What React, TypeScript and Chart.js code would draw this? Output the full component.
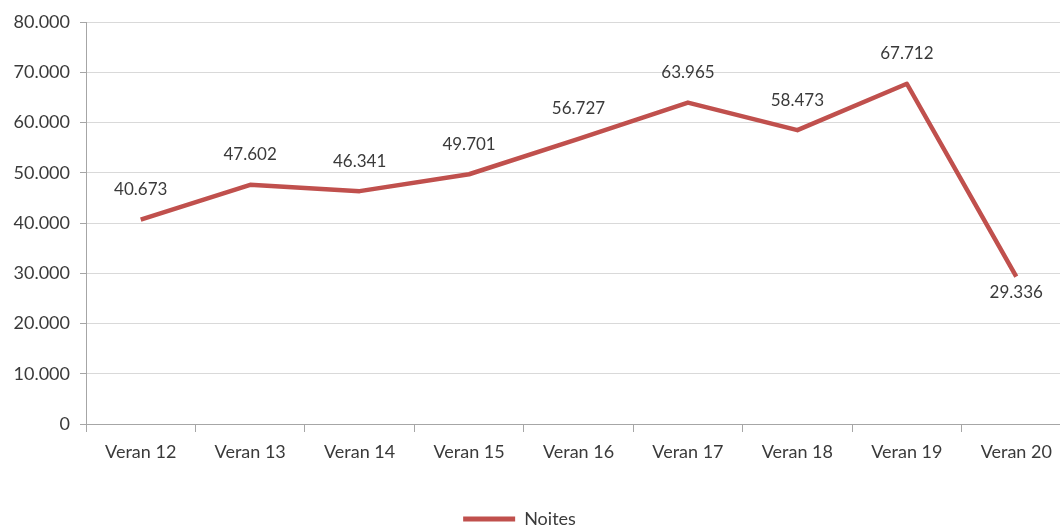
import React, { useEffect, useRef } from "react";
import { Chart, registerables } from "chart.js";

Chart.register(...registerables);

const categories = ["Veran 12", "Veran 13", "Veran 14", "Veran 15", "Veran 16", "Veran 17", "Veran 18", "Veran 19", "Veran 20"];
const noites = [40673, 47602, 46341, 49701, 56727, 63965, 58473, 67712, 29336];
const seriesName = "Noites";
const yMin = 0;
const yMax = 80000;
const yStep = 10000;

const LINE_COLOR = "#C0504D";
const TEXT_COLOR = "#3a3a3a";
const FONT = "Lato, 'Open Sans', sans-serif";

function fmt(v: number): string {
  const s = Math.round(v).toString();
  return s.replace(/\B(?=(\d{3})+(?!\d))/g, ".");
}

const dataLabelPlugin = {
  id: "dataLabels",
  afterDatasetsDraw(chart: any) {
    const ctx = chart.ctx;
    const meta = chart.getDatasetMeta(0);
    const data = chart.data.datasets[0].data as number[];
    ctx.save();
    ctx.font = `17px ${FONT}`;
    ctx.fillStyle = TEXT_COLOR;
    ctx.textAlign = "center";
    ctx.textBaseline = "middle";
    meta.data.forEach((pt: any, i: number) => {
      const last = i === data.length - 1;
      const y = last ? pt.y + 16 : pt.y - 30;
      ctx.fillText(fmt(data[i]), pt.x, y);
    });
    ctx.restore();
  },
};

const legendShiftPlugin = {
  id: "legendShift",
  afterLayout(chart: any) {
    if (chart.legend) {
      chart.legend.left -= 16;
      chart.legend.right -= 16;
    }
  },
};

export default function App() {
  const ref = useRef<HTMLCanvasElement | null>(null);

  useEffect(() => {
    document.body.style.margin = "0";
    const canvas = ref.current!;
    const chart = new Chart(canvas, {
      type: "line",
      data: {
        labels: categories,
        datasets: [
          {
            label: seriesName,
            data: noites,
            borderColor: LINE_COLOR,
            backgroundColor: LINE_COLOR,
            borderWidth: 4.5,
            pointRadius: 0,
            pointHoverRadius: 0,
            tension: 0,
            fill: false,
            borderJoinStyle: "round",
            borderCapStyle: "butt",
          },
        ],
      },
      options: {
        responsive: false,
        animation: false,
        layout: { padding: { top: 22, left: 0, right: 0, bottom: 0 } },
        plugins: {
          tooltip: { enabled: false },
          legend: {
            display: true,
            position: "bottom",
            labels: {
              boxWidth: 52,
              boxHeight: 5,
              padding: 10,
              color: TEXT_COLOR,
              font: { family: FONT, size: 18 },
              generateLabels(chart: any) {
                const items = Chart.defaults.plugins.legend.labels.generateLabels(chart);
                return items.map((it: any) => ({ ...it, lineWidth: 0, fillStyle: LINE_COLOR }));
              },
            },
          },
        },
        scales: {
          x: {
            offset: true,
            grid: {
              offset: true,
              drawOnChartArea: false,
              drawTicks: true,
              tickLength: 8,
              color: "#A6A6A6",
            },
            border: { color: "#A6A6A6", width: 1 },
            ticks: {
              color: TEXT_COLOR,
              font: { family: FONT, size: 18 },
              padding: 9,
              maxRotation: 0,
              autoSkip: false,
            },
            afterFit(scale: any) {
              scale.height = 76;
            },
          },
          y: {
            min: yMin,
            max: yMax,
            grid: {
              color: "#D9D9D9",
              tickColor: "#A6A6A6",
              tickLength: 6,
              lineWidth: 1,
            },
            border: { color: "#A6A6A6", width: 1 },
            ticks: {
              stepSize: yStep,
              color: TEXT_COLOR,
              font: { family: FONT, size: 18 },
              padding: 10,
              callback: (v: any) => fmt(Number(v)),
            },
            afterFit(scale: any) {
              scale.width = 86;
            },
          },
        },
      },
      plugins: [dataLabelPlugin, legendShiftPlugin],
    });
    return () => chart.destroy();
  }, []);

  return (
    <div style={{ position: "fixed", left: 0, top: 0, width: 1060, height: 532, overflow: "hidden", background: "#fff" }}>
      <canvas ref={ref} width={1071} height={538} style={{ width: 1071, height: 538, display: "block" }} />
    </div>
  );
}
